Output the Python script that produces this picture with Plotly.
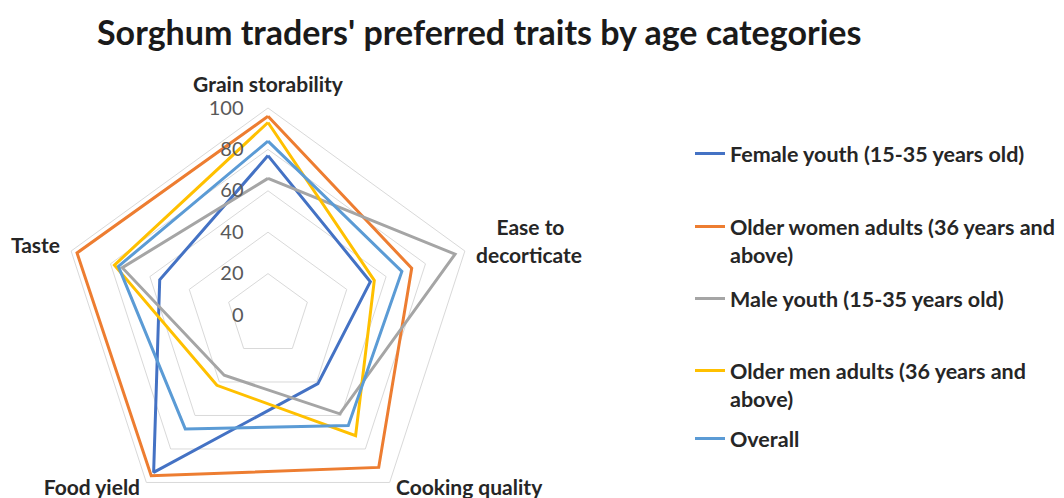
import plotly.graph_objects as go

# ── Data ──────────────────────────────────────────────────────
traits = ["Grain storability", "Ease to decorticate", "Cooking quality", "Food yield", "Taste"]
trait_labels = [
    "Grain storability",
    "\u00a0\u00a0\u00a0\u00a0Ease to<br>decorticate",
    "Cooking quality",
    "Food yield",
    "Taste",
]
bottom_traits = {"Cooking quality", "Food yield"}

group_names = [
    "Female youth (15-35 years old)",
    "Older women adults (36 years and<br>above)",
    "Male youth (15-35 years old)",
    "Older men adults (36 years and<br>above)",
    "Overall",
]
female_youth = [77, 52, 41, 94, 55]
older_women = [96, 73, 91, 96, 97]
male_youth = [66, 95, 59, 36, 74]
older_men = [93, 54, 72, 42, 78]
overall = [84, 68, 66, 68, 76]

radial_ticks = [0, 20, 40, 60, 80, 100]

# ── Style ─────────────────────────────────────────────────────
# the page shows the figure with an 8px body margin, so the figure is
# made taller than the window and everything is placed in paper px
W, H = 1064, 530
FONT = "Lato"
GRID = "#d9d9d9"
TEXT = "#262626"
COLORS = ["#4472C4", "#ED7D31", "#A5A5A5", "#FFC000", "#5B9BD5"]

CX, CY = 260, 307   # radar centre (paper px)
R_PX = 207          # pixel radius of the value 100
# label-only frame for the two bottom labels, lifted a little
CY_LOW, R_LOW = 290, 206

# legend first-line centres (paper px from top)
LEGEND_Y = [140, 213, 285, 357, 425]


def domain(cx, cy, r):
    return dict(
        x=[(cx - r) / W, (cx + r) / W],
        y=[(H - (cy + r)) / H, (H - (cy - r)) / H],
    )


label_font = dict(family=FONT, size=21, color=TEXT, weight="bold")

fig = go.Figure()

series = [female_youth, older_women, male_youth, older_men, overall]
for i, (name, vals) in enumerate(zip(group_names, series)):
    fig.add_trace(go.Scatterpolar(
        r=vals + vals[:1],
        theta=traits + traits[:1],
        mode="lines",
        name=name,
        line=dict(color=COLORS[i], width=3),
        legend="legend" if i == 0 else f"legend{i + 1}",
    ))

# invisible copy so the label-only frame gets drawn
fig.add_trace(go.Scatterpolar(
    r=overall,
    theta=traits,
    mode="lines",
    line=dict(width=0),
    opacity=0,
    subplot="polar2",
    showlegend=False,
    hoverinfo="skip",
))

legends = {}
for i, ypx in enumerate(LEGEND_Y):
    key = "legend" if i == 0 else f"legend{i + 1}"
    legends[key] = dict(
        x=682 / W,
        xanchor="left",
        y=1 - (ypx - 15) / H,
        yanchor="top",
        valign="top",
        bgcolor="rgba(0,0,0,0)",
        font=dict(family=FONT, size=21.5, color=TEXT, weight="bold"),
    )

fig.update_layout(
    width=W,
    height=H,
    margin=dict(l=0, r=0, t=0, b=0),
    paper_bgcolor="white",
    showlegend=True,
    title=dict(
        text="<b>Sorghum traders' preferred traits by age categories</b>",
        x=89 / W,
        xanchor="left",
        y=1 - 25 / H,
        yanchor="middle",
        font=dict(family=FONT, size=34, color="#1a1a1a"),
    ),
    polar=dict(
        domain=domain(CX, CY, R_PX),
        gridshape="linear",
        bgcolor="white",
        radialaxis=dict(
            range=[0, 100],
            tickvals=radial_ticks,
            angle=90,
            tickangle=90,
            side="counterclockwise",
            showline=False,
            ticks="outside",
            ticklen=17,
            tickcolor="rgba(0,0,0,0)",
            gridcolor=GRID,
            gridwidth=1,
            tickfont=dict(family=FONT, size=20, color="#595959"),
        ),
        angularaxis=dict(
            rotation=90,
            direction="clockwise",
            categoryorder="array",
            categoryarray=traits,
            tickvals=traits,
            ticktext=["" if t in bottom_traits else lab for t, lab in zip(traits, trait_labels)],
            showline=True,
            linecolor=GRID,
            linewidth=1,
            showgrid=False,
            ticks="outside",
            ticklen=7,
            tickcolor="rgba(0,0,0,0)",
            tickfont=label_font,
        ),
    ),
    polar2=dict(
        domain=domain(CX, CY_LOW, R_LOW),
        gridshape="linear",
        bgcolor="rgba(0,0,0,0)",
        radialaxis=dict(range=[0, 100], visible=False),
        angularaxis=dict(
            type="category",
            rotation=90,
            direction="clockwise",
            categoryorder="array",
            categoryarray=traits,
            tickvals=traits,
            ticktext=[lab if t in bottom_traits else "" for t, lab in zip(traits, trait_labels)],
            showline=False,
            showgrid=False,
            ticks="outside",
            ticklen=7,
            tickcolor="rgba(0,0,0,0)",
            tickfont=label_font,
        ),
    ),
    **legends,
)

fig.write_html("out.html")
